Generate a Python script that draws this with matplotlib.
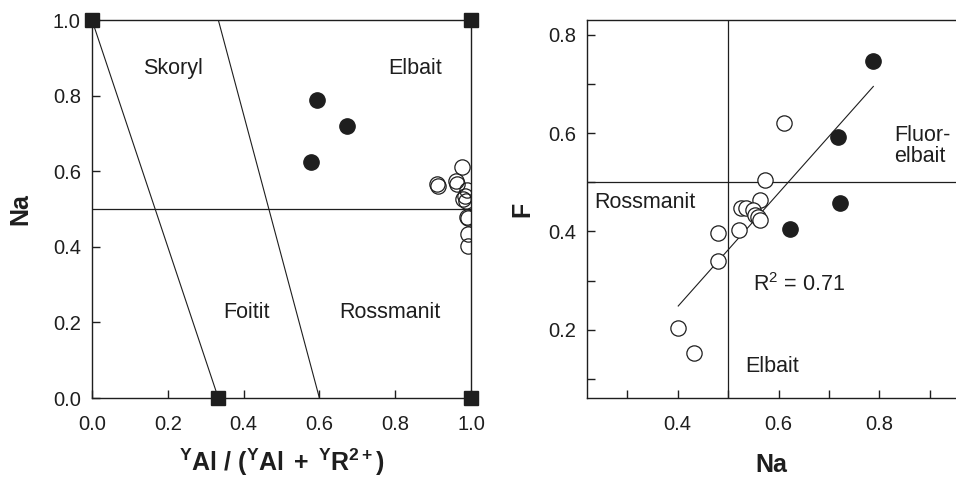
import numpy as np
import matplotlib
matplotlib.use("Agg")
import matplotlib.pyplot as plt
from matplotlib.ticker import MultipleLocator

plt.rcParams['font.family'] = ['Liberation Sans', 'DejaVu Sans']
plt.rcParams['mathtext.fontset'] = 'custom'
plt.rcParams['mathtext.rm'] = 'Liberation Sans'
plt.rcParams['mathtext.bf'] = 'Liberation Sans:bold'
plt.rcParams['mathtext.it'] = 'Liberation Sans:italic'

INK = '#1e1e1e'

# Left panel: YAl/(YAl+YR2+) vs Na
end_x = [0.0, 1.0, 1/3, 1.0]
end_y = [1.0, 1.0, 0.0, 0.0]
div1_x = [0.0, 1/3]
div1_y = [1.0, 0.0]
div2_x = [1/3, 0.6]
div2_y = [1.0, 0.0]
left_filled_x = [0.593, 0.672, 0.578]
left_filled_y = [0.788, 0.720, 0.624]
left_open_x = [0.977, 0.909, 0.914, 0.960, 0.964, 0.990, 0.984, 0.980, 0.987,
               0.990, 0.993, 0.993, 0.993]
left_open_y = [0.611, 0.566, 0.560, 0.575, 0.566, 0.549, 0.535, 0.527, 0.522,
               0.480, 0.476, 0.434, 0.402]

# Right panel: Na vs F
right_filled_x = [0.788, 0.717, 0.721, 0.622]
right_filled_y = [0.746, 0.593, 0.458, 0.405]
right_open_x = [0.610, 0.574, 0.564, 0.526, 0.536, 0.549, 0.554, 0.559, 0.564,
                0.522, 0.480, 0.480, 0.401, 0.432]
right_open_y = [0.620, 0.505, 0.464, 0.447, 0.447, 0.443, 0.434, 0.430, 0.424,
                0.402, 0.396, 0.339, 0.203, 0.152]

fig = plt.figure(figsize=(9.56, 4.8), dpi=100)
ax1 = fig.add_axes([0.0962, 0.1708, 0.3965, 0.7875])
ax2 = fig.add_axes([0.614, 0.1708, 0.386, 0.7875])

# ---- left
ax1.plot(div1_x, div1_y, color=INK, lw=0.8)
ax1.plot(div2_x, div2_y, color=INK, lw=0.8)
ax1.axhline(0.5, color=INK, lw=0.9)
ax1.plot(end_x, end_y, 's', color=INK, ms=10, clip_on=False, zorder=5)
ax1.plot(left_open_x, left_open_y, 'o', mfc='none', mec=INK, mew=0.9, ms=11)
ax1.plot(left_filled_x, left_filled_y, 'o', color=INK, ms=11)
ax1.set_xlim(0, 1)
ax1.set_ylim(0, 1)
ax1.xaxis.set_major_locator(MultipleLocator(0.2))
ax1.yaxis.set_major_locator(MultipleLocator(0.2))
ax1.xaxis.set_major_formatter(lambda v, p: f"{v:.1f}")
ax1.yaxis.set_major_formatter(lambda v, p: f"{v:.1f}")

fs_txt = 15.5
ax1.text(0.213, 0.872, "Skoryl", ha='center', va='center', fontsize=fs_txt, color=INK)
ax1.text(0.852, 0.872, "Elbait", ha='center', va='center', fontsize=fs_txt, color=INK)
ax1.text(0.408, 0.225, "Foitit", ha='center', va='center', fontsize=fs_txt, color=INK)
ax1.text(0.786, 0.225, "Rossmanit", ha='center', va='center', fontsize=fs_txt, color=INK)
ax1.set_xlabel(r"$\mathbf{^{Y}Al\ /\ (^{Y}Al\;+\;^{Y}R^{2+})}$", fontsize=18, color=INK)
ax1.set_ylabel("Na", fontsize=18, fontweight='bold', color=INK)

# ---- right
ax2.axvline(0.5, color=INK, lw=0.9)
ax2.axhline(0.5, color=INK, lw=0.9)
all_x = np.array(right_open_x + right_filled_x)
all_y = np.array(right_open_y + right_filled_y)
slope, icpt = np.polyfit(all_x, all_y, 1)
fx = np.array([all_x.min(), all_x.max()])
ax2.plot(fx, slope * fx + icpt, color=INK, lw=0.8)
ax2.plot(right_open_x, right_open_y, 'o', mfc='white', mec=INK, mew=0.9, ms=11)
ax2.plot(right_filled_x, right_filled_y, 'o', color=INK, ms=11)
ax2.set_xlim(0.22, 0.952)
ax2.set_ylim(0.061, 0.83)
ax2.xaxis.set_major_locator(MultipleLocator(0.2))
ax2.xaxis.set_minor_locator(MultipleLocator(0.1))
ax2.yaxis.set_major_locator(MultipleLocator(0.2))
ax2.yaxis.set_minor_locator(MultipleLocator(0.1))
ax2.xaxis.set_major_formatter(lambda v, p: f"{v:.1f}")
ax2.yaxis.set_major_formatter(lambda v, p: f"{v:.1f}")
ax2.spines['right'].set_visible(False)

ax2.text(0.235, 0.459, "Rossmanit", ha='left', va='center', fontsize=fs_txt, color=INK)
ax2.text(0.829, 0.573, "Fluor-\nelbait", ha='left', va='center', fontsize=fs_txt,
         color=INK, linespacing=1.0)
ax2.text(0.534, 0.125, "Elbait", ha='left', va='center', fontsize=fs_txt, color=INK)
ax2.text(0.549, 0.291, r"R$^{2}$ = 0.71", ha='left', va='center', fontsize=fs_txt, color=INK)
ax2.set_xlabel("Na", fontsize=18, fontweight='bold', color=INK)
ax2.set_ylabel("F", fontsize=18, fontweight='bold', color=INK)

for ax in (ax1, ax2):
    for s in ax.spines.values():
        s.set_color(INK)
        s.set_linewidth(1.0)
    ax.tick_params(which='both', direction='in', length=6, width=1.0, color=INK,
                   labelsize=14.5, labelcolor=INK)
    ax.tick_params(axis='x', which='both', pad=12)
    ax.tick_params(axis='y', which='both', pad=8)

ax1.xaxis.labelpad = 9
ax1.yaxis.labelpad = 15
ax2.xaxis.labelpad = 14
ax2.yaxis.labelpad = 10

fig.savefig("out.png", dpi=100)
